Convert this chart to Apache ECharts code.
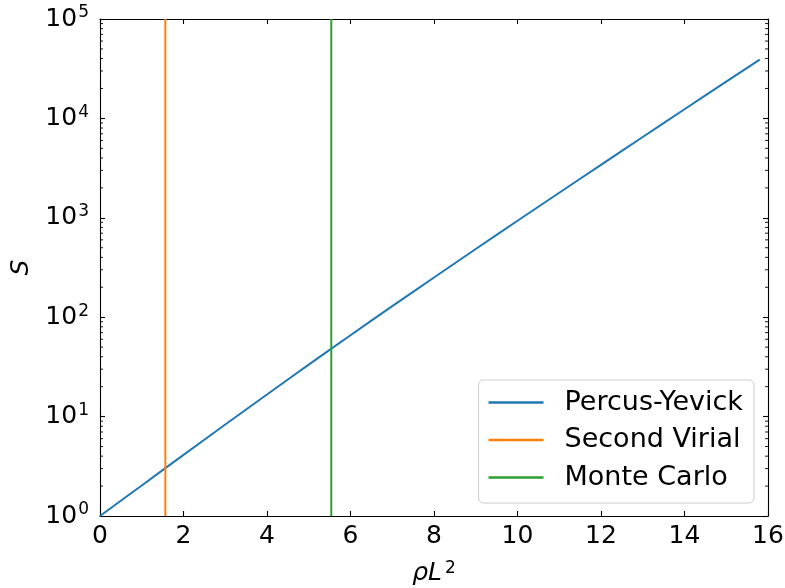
<!DOCTYPE html>
<html>
<head>
<meta charset="utf-8">
<script src="https://cdn.jsdelivr.net/npm/echarts@6/dist/echarts.min.js"></script>
<style>html,body{margin:0;padding:0;background:#fff}#c{width:785px;height:588px}</style>
</head>
<body>
<div id="c"></div>
<script>
// Data
const rhoL2 = [0, 1, 2, 3, 4, 5, 6, 7, 8, 9, 10, 11, 12, 13, 14, 15, 15.8];
const percusYevick = [1, 2.03, 4.12, 8.32, 16.7, 33.3, 65.9, 129.1, 251, 485, 933, 1786, 3412, 6501, 12359, 23442, 39084];
const secondVirialX = 1.565;
const monteCarloX = 5.54;
const seriesNames = ['Percus-Yevick', 'Second Virial', 'Monte Carlo'];
const xMin = 0, xMax = 16, xStep = 2;
const yMin = 1, yMax = 100000;
const minorMultipliers = [2, 3, 4, 5, 6, 7, 8, 9];
const decades = [1, 10, 100, 1000, 10000];

const FONT = 'DejaVu Sans';
const minorTicks = [];
decades.forEach(d => minorMultipliers.forEach(m => minorTicks.push([0, d * m])));

const chart = echarts.init(document.getElementById('c'), null, {renderer: 'canvas'});
const axisLine = {show: true, onZero: false, lineStyle: {color: '#000', width: 1.1}};
const majorTick = {show: true, inside: true, length: 5, lineStyle: {color: '#000', width: 1.1}};

chart.setOption({
  animation: false,
  backgroundColor: '#fff',
  grid: {left: 100, top: 19, right: 17, bottom: 72, containLabel: false, outerBoundsMode: 'none'},
  xAxis: [{
    type: 'value', min: xMin, max: xMax, interval: xStep, position: 'bottom',
    axisLine: axisLine, axisTick: majorTick, splitLine: {show: false},
    axisLabel: {color: '#000', fontFamily: FONT, fontSize: 25, margin: 8},
    name: '{i|ρL}{s|2}', nameLocation: 'middle', nameGap: 44,
    nameTextStyle: {
      color: '#000', fontFamily: FONT, fontSize: 25,
      rich: {
        i: {fontFamily: FONT, fontStyle: 'italic', fontSize: 25, color: '#000'},
        s: {fontFamily: FONT, fontSize: 17, color: '#000', verticalAlign: 'top', padding: [0, 0, 10, 3]}
      }
    }
  }, {
    type: 'value', min: xMin, max: xMax, interval: xStep, position: 'top',
    axisLine: axisLine, axisTick: majorTick, splitLine: {show: false},
    axisLabel: {show: false}
  }],
  yAxis: [{
    type: 'log', logBase: 10, min: yMin, max: yMax, position: 'left',
    axisLine: axisLine, axisTick: majorTick, splitLine: {show: false},
    axisLabel: {
      color: '#000', fontFamily: FONT, margin: 11,
      formatter: v => '{b|10}{s|' + Math.round(Math.log10(v)) + '}',
      rich: {
        b: {fontFamily: FONT, fontSize: 25, color: '#000'},
        s: {fontFamily: FONT, fontSize: 17, color: '#000', verticalAlign: 'top', padding: [0, 0, 12, 1]}
      }
    },
    name: 'S', nameLocation: 'middle', nameGap: 66, nameRotate: 90,
    nameTextStyle: {color: '#000', fontFamily: FONT, fontSize: 25, fontStyle: 'italic'}
  }, {
    type: 'log', logBase: 10, min: yMin, max: yMax, position: 'right',
    axisLine: axisLine, axisTick: majorTick, splitLine: {show: false},
    axisLabel: {show: false}
  }],
  legend: {
    data: seriesNames.map(n => ({name: n, icon: 'rect'})),
    orient: 'vertical', right: 31, bottom: 85,
    itemWidth: 55, itemHeight: 2.5, itemGap: 10.5,
    padding: [9, 11, 12, 10],
    backgroundColor: 'rgba(255,255,255,0.8)', borderColor: '#cccccc', borderWidth: 1, borderRadius: 5,
    textStyle: {color: '#000', fontFamily: FONT, fontSize: 27, padding: [0, 0, 0, 16]}
  },
  series: [{
    name: seriesNames[0], type: 'line', xAxisIndex: 0, yAxisIndex: 0,
    data: rhoL2.map((x, i) => [x, percusYevick[i]]), smooth: 0.2,
    showSymbol: false, symbol: 'none', lineStyle: {color: '#1f77b4', width: 2}, itemStyle: {color: '#1f77b4'}
  }, {
    name: seriesNames[1], type: 'line', xAxisIndex: 0, yAxisIndex: 0,
    data: [[secondVirialX, yMin], [secondVirialX, yMax]],
    showSymbol: false, symbol: 'none', lineStyle: {color: '#ff7f0e', width: 2}, itemStyle: {color: '#ff7f0e'}
  }, {
    name: seriesNames[2], type: 'line', xAxisIndex: 0, yAxisIndex: 0,
    data: [[monteCarloX, yMin], [monteCarloX, yMax]],
    showSymbol: false, symbol: 'none', lineStyle: {color: '#2ca02c', width: 2}, itemStyle: {color: '#2ca02c'}
  }, {
    name: 'minorTicks', type: 'custom', xAxisIndex: 0, yAxisIndex: 0, silent: true, clip: false,
    data: minorTicks,
    renderItem: (params, api) => {
      const v = api.value(1);
      const pl = api.coord([xMin, v]);
      const pr = api.coord([xMax, v]);
      const st = {stroke: '#000', lineWidth: 0.9};
      return {type: 'group', children: [
        {type: 'line', shape: {x1: pl[0], y1: pl[1], x2: pl[0] + 3, y2: pl[1]}, style: st},
        {type: 'line', shape: {x1: pr[0] - 3, y1: pr[1], x2: pr[0], y2: pr[1]}, style: st}
      ]};
    }
  }]
});
</script>
</body>
</html>
